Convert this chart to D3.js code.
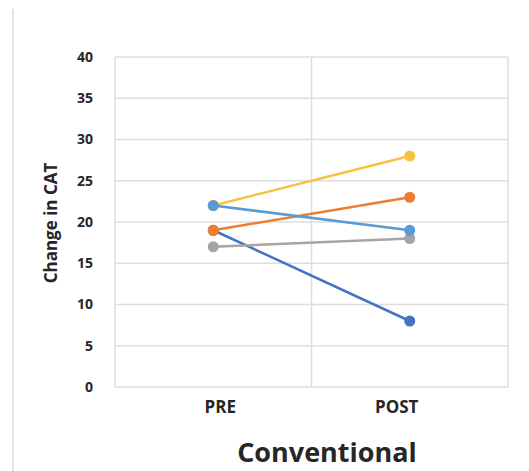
<!DOCTYPE html>
<html>
<head>
<meta charset="utf-8">
<title>Conventional</title>
<script src="https://cdn.jsdelivr.net/npm/d3@7"></script>
<style>
	body { margin: 0; background: #fff; }
	text { font-family: "Open Sans", "DejaVu Sans", sans-serif; font-weight: bold; fill: #262626; }
</style>
</head>
<body>
<script>
	// data
	var phases = ["PRE", "POST"];
	var yTicks = [0, 5, 10, 15, 20, 25, 30, 35, 40];
	var seriesNames = ["s1", "s2", "s3", "s4", "s5"];
	var seriesColors = ["#4472c4", "#ed7d31", "#a5a5a5", "#f7c242", "#5b9bd5"];
	var preValues = [19, 19, 17, 22, 22];
	var postValues = [8, 23, 18, 28, 19];

	var width = 529, height = 471;
	var plot = {left: 115, right: 508, top: 57, bottom: 387};

	var svg = d3.select("body").append("svg")
		.attr("width", width)
		.attr("height", height);

	// thin line at the left edge of the slide
	svg.append("line")
		.attr("x1", 13).attr("x2", 13)
		.attr("y1", 9).attr("y2", height)
		.attr("stroke", "#dcdcdc").attr("stroke-width", 1.5);

	var x = d3.scaleBand().domain(phases).range([plot.left, plot.right]);
	var y = d3.scaleLinear().domain([0, 40]).range([plot.bottom, plot.top]);

	// horizontal gridlines
	svg.selectAll(".hgrid").data(yTicks).enter().append("line")
		.attr("class", "hgrid")
		.attr("x1", plot.left).attr("x2", plot.right)
		.attr("y1", function(d){ return y(d); })
		.attr("y2", function(d){ return y(d); })
		.attr("stroke", "#dedede").attr("stroke-width", 1.5);

	// vertical gridlines at band edges
	var edges = [plot.left].concat(phases.map(function(p){ return x(p) + x.bandwidth(); }));
	svg.selectAll(".vgrid").data(edges).enter().append("line")
		.attr("class", "vgrid")
		.attr("x1", function(d){ return d; }).attr("x2", function(d){ return d; })
		.attr("y1", plot.top).attr("y2", plot.bottom)
		.attr("stroke", "#dedede").attr("stroke-width", 1.5);

	// y tick labels
	var yAxis = svg.append("g")
		.attr("transform", "translate(" + (plot.left - 22) + ",0)")
		.call(d3.axisLeft(y).tickValues(yTicks).tickSize(0).tickPadding(0));
	yAxis.select(".domain").remove();
	yAxis.selectAll("text")
		.attr("font-size", 14)
		.style("font-family", "'Open Sans', 'DejaVu Sans', sans-serif")
		.style("font-weight", "bold")
		.attr("fill", "#262626");

	// x category labels (sit a little off the marker centres in the original)
	var labelShift = {PRE: 7, POST: -13};
	var xAxis = svg.append("g")
		.attr("transform", "translate(0," + (plot.bottom + 14) + ")")
		.call(d3.axisBottom(x).tickSize(0).tickPadding(0));
	xAxis.select(".domain").remove();
	xAxis.selectAll("text")
		.attr("dx", function(d){ return labelShift[d]; })
		.attr("font-size", 17)
		.style("font-family", "'Open Sans', 'DejaVu Sans', sans-serif")
		.style("font-weight", "bold")
		.attr("fill", "#262626");

	// y title
	svg.append("text")
		.attr("transform", "translate(57," + 223 + ") rotate(-90)")
		.attr("text-anchor", "middle")
		.attr("font-size", 17)
		.text("Change in CAT");

	// chart title
	svg.append("text")
		.attr("x", 327).attr("y", 462)
		.attr("text-anchor", "middle")
		.attr("font-size", 27)
		.text("Conventional");

	// series
	var series = seriesNames.map(function(n, i){
		return {name: n, color: seriesColors[i], values: [preValues[i], postValues[i]]};
	});
	var cx = function(j){ return x(phases[j]) + x.bandwidth() / 2; };
	var line = d3.line()
		.x(function(d, j){ return cx(j); })
		.y(function(d){ return y(d); });

	var g = svg.selectAll(".series").data(series).enter().append("g").attr("class", "series");
	g.append("path")
		.attr("d", function(d){ return line(d.values); })
		.attr("fill", "none")
		.attr("stroke", function(d){ return d.color; })
		.attr("stroke-width", 2.5);
	g.selectAll("circle")
		.data(function(d){ return d.values.map(function(v){ return {v: v, c: d.color}; }); })
		.enter().append("circle")
		.attr("cx", function(d, j){ return cx(j); })
		.attr("cy", function(d){ return y(d.v); })
		.attr("r", 5.5)
		.attr("fill", function(d){ return d.c; });
</script>
</body>
</html>
